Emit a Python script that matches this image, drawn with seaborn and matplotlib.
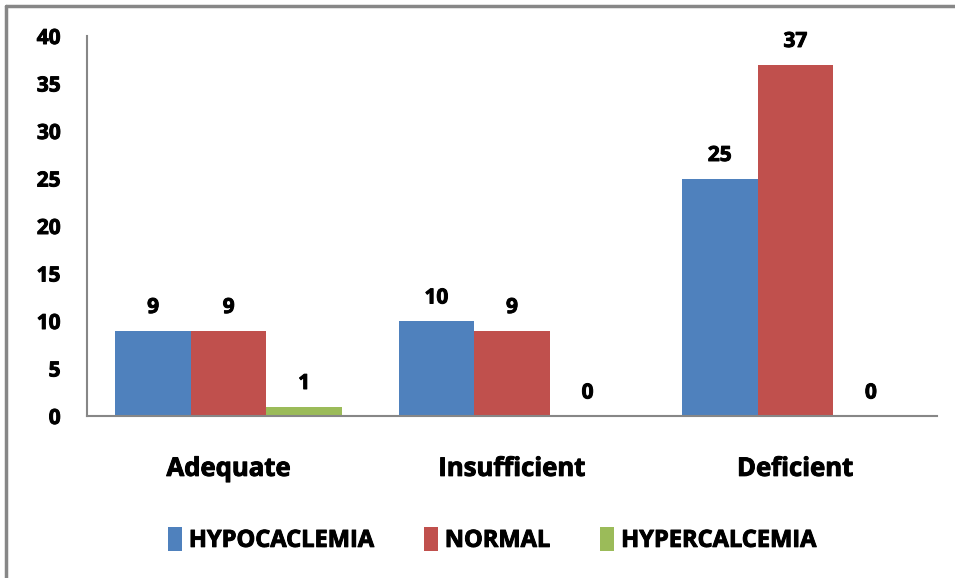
import matplotlib
matplotlib.use("Agg")
import matplotlib.pyplot as plt
import matplotlib.patheffects as pe
from matplotlib.lines import Line2D
from matplotlib.patches import Patch
import seaborn as sns
import pandas as pd

categories = ["Adequate", "Insufficient", "Deficient"]
series = ["HYPOCACLEMIA", "NORMAL", "HYPERCALCEMIA"]
hypocalcemia = [9, 10, 25]
normal = [9, 9, 37]
hypercalcemia = [1, 0, 0]
colors = ["#4F81BD", "#C0504D", "#9BBB59"]
y_ticks = [0, 5, 10, 15, 20, 25, 30, 35, 40]

rows = []
for name, vals in zip(series, [hypocalcemia, normal, hypercalcemia]):
    for c, v in zip(categories, vals):
        rows.append({"Category": c, "Series": name, "Value": v})
df = pd.DataFrame(rows)

sns.set_theme(style="white")
plt.rcParams["font.family"] = ["Open Sans", "DejaVu Sans"]
plt.rcParams["font.weight"] = "bold"
heavy = [pe.withStroke(linewidth=0.7, foreground="black")]

fig = plt.figure(figsize=(9.55, 5.78), dpi=100)
ax = fig.add_axes([87 / 955, 1 - 416 / 578, (937 - 87) / 955, (416 - 36) / 578])

sns.barplot(data=df, x="Category", y="Value", hue="Series", order=categories,
            hue_order=series, palette=colors, width=0.8, saturation=1,
            linewidth=0, ax=ax, legend=False)

for cont in ax.containers:
    labels = ax.bar_label(cont, fmt="%d", padding=9, fontsize=15, fontweight="bold", color="black")
    for t in labels:
        t.set_path_effects(heavy)

ax.set_ylim(0, 40)
ax.set_xlim(-0.5, 2.5)
ax.set_yticks(y_ticks)
ax.set_yticklabels([str(t) for t in y_ticks], fontsize=15, fontweight="bold")
ax.tick_params(axis="y", length=0, pad=19)
ax.tick_params(axis="x", length=0, pad=28, labelsize=18.5)
for lbl in ax.get_xticklabels() + ax.get_yticklabels():
    lbl.set_fontweight("bold")
    lbl.set_color("black")
    lbl.set_path_effects(heavy)
ax.set_xlabel("")
ax.set_ylabel("")
for s in ["top", "right"]:
    ax.spines[s].set_visible(False)
for s in ["left", "bottom"]:
    ax.spines[s].set_color("#878787")
    ax.spines[s].set_linewidth(1.5)

handles = [Patch(facecolor=c, edgecolor="none") for c in colors]
leg = fig.legend(handles, series, loc="center", bbox_to_anchor=(492 / 955, 1 - 540 / 578),
                 ncol=3, frameon=False, handlelength=0.6, handleheight=1.15,
                 handletextpad=0.3, columnspacing=2.1,
                 prop={"size": 17, "weight": "bold"})
for t in leg.get_texts():
    t.set_color("black")
    t.set_path_effects(heavy)

# outer chart border (left and top visible)
fig.add_artist(Line2D([6 / 955, 6 / 955], [0, 1 - 6 / 578], transform=fig.transFigure,
                      color="#878787", lw=2.5))
fig.add_artist(Line2D([6 / 955, 1], [1 - 6 / 578, 1 - 6 / 578], transform=fig.transFigure,
                      color="#878787", lw=2.5))

fig.savefig("out.png", dpi=100, facecolor="white")
